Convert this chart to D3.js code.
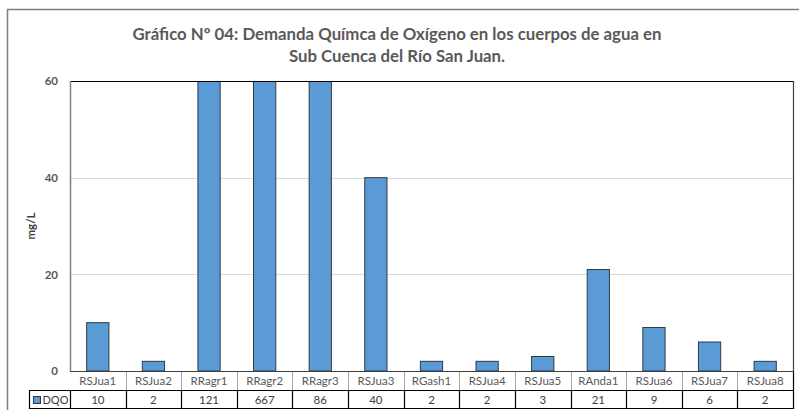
<!DOCTYPE html>
<html lang="es">
<head>
<meta charset="utf-8">
<title>DQO</title>
<script src="https://cdnjs.cloudflare.com/ajax/libs/d3/7.8.5/d3.min.js"></script>
<style>
  body { margin: 0; background: #fff; }
  text { font-family: Lato, "Open Sans", sans-serif; }
</style>
</head>
<body>
<script>
// datos
var categories = ["RSJua1","RSJua2","RRagr1","RRagr2","RRagr3","RSJua3","RGash1","RSJua4","RSJua5","RAnda1","RSJua6","RSJua7","RSJua8"];
var dqo = [10, 2, 121, 667, 86, 40, 2, 2, 3, 21, 9, 6, 2];
var yTicks = [0, 20, 40, 60];
var seriesName = "DQO";
var titleLines = ["Gráfico Nº 04: Demanda Químca de Oxígeno en los cuerpos de agua en", "Sub Cuenca del Río San Juan."];

var W = 799, H = 410;
var plot = {left: 70, top: 81, right: 793, bottom: 371};
var rowH = 19;

var svg = d3.select("body").append("svg")
  .attr("width", W).attr("height", H);

// borde del gráfico
svg.append("rect")
  .attr("x", 7.5).attr("y", 9.5)
  .attr("width", W + 10).attr("height", H + 10)
  .attr("fill", "#fff").attr("stroke", "#7f7f7f").attr("stroke-width", 1.5);

// título
svg.append("text")
  .attr("x", 397).attr("y", 40)
  .attr("text-anchor", "middle")
  .attr("font-size", 16.8).attr("font-weight", "bold").attr("fill", "#595959")
  .selectAll("tspan").data(titleLines).enter().append("tspan")
  .attr("x", 397).attr("dy", function(d, i) { return i === 0 ? 0 : 22; })
  .text(function(d) { return d; });

var x = d3.scaleBand().domain(categories).range([plot.left, plot.right]).padding(0);
var y = d3.scaleLinear().domain([0, 60]).range([plot.bottom, plot.top]);
var barW = x.bandwidth() / 2.5;

// líneas de cuadrícula
svg.append("g").selectAll("line")
  .data(yTicks.filter(function(d) { return d > 0 && d < 60; }))
  .enter().append("line")
  .attr("x1", plot.left).attr("x2", plot.right)
  .attr("y1", function(d) { return Math.round(y(d)) + 0.5; })
  .attr("y2", function(d) { return Math.round(y(d)) + 0.5; })
  .attr("stroke", "#d9d9d9").attr("stroke-width", 1);

// eje Y
var yAxis = d3.axisLeft(y).tickValues(yTicks).tickSize(0).tickPadding(12);
var gy = svg.append("g").attr("transform", "translate(" + plot.left + ",0)").call(yAxis);
gy.select(".domain").remove();
gy.selectAll("text")
  .attr("font-size", 11.5).attr("font-weight", "bold").attr("fill", "#595959")
  .attr("font-family", "Lato, sans-serif");

svg.append("text")
  .attr("transform", "translate(35," + ((plot.top + plot.bottom) / 2) + ") rotate(-90)")
  .attr("text-anchor", "middle")
  .attr("font-size", 11.5).attr("font-weight", "bold").attr("fill", "#404040")
  .text("mg/L");

// barras (recortadas en 60)
svg.append("clipPath").attr("id", "clip")
  .append("rect").attr("x", plot.left).attr("y", plot.top)
  .attr("width", plot.right - plot.left).attr("height", plot.bottom - plot.top);

svg.append("g").attr("clip-path", "url(#clip)")
  .selectAll("rect").data(dqo).enter().append("rect")
  .attr("x", function(d, i) { return x(categories[i]) + (x.bandwidth() - barW) / 2; })
  .attr("y", function(d) { return y(Math.min(d, 70)); })
  .attr("width", barW)
  .attr("height", function(d) { return y(0) - y(Math.min(d, 70)); })
  .attr("fill", "#5b9bd5").attr("stroke", "#2f3a45").attr("stroke-width", 1);

// bordes del área de trazado
svg.append("line")
  .attr("x1", plot.left).attr("x2", plot.right + 0.5)
  .attr("y1", plot.top + 0.5).attr("y2", plot.top + 0.5)
  .attr("stroke", "#000").attr("stroke-width", 1.2);
svg.append("line")
  .attr("x1", plot.right + 0.5).attr("x2", plot.right + 0.5)
  .attr("y1", plot.top).attr("y2", plot.bottom)
  .attr("stroke", "#404040").attr("stroke-width", 1.2);
svg.append("line")
  .attr("x1", plot.left + 0.5).attr("x2", plot.left + 0.5)
  .attr("y1", plot.top).attr("y2", plot.bottom)
  .attr("stroke", "#808080").attr("stroke-width", 1.5);

// tabla de datos
var tbl = svg.append("g");
var r1 = plot.bottom, r2 = plot.bottom + rowH, r3 = plot.bottom + 2 * rowH;
var legendLeft = 29;

tbl.selectAll("text.cat").data(categories).enter().append("text")
  .attr("class", "cat")
  .attr("x", function(d) { return x(d) + x.bandwidth() / 2; })
  .attr("y", r1 + 14)
  .attr("text-anchor", "middle")
  .attr("font-size", 11.5).attr("fill", "#595959")
  .text(function(d) { return d; });

tbl.selectAll("text.val").data(dqo).enter().append("text")
  .attr("class", "val")
  .attr("x", function(d, i) { return x(categories[i]) + x.bandwidth() / 2; })
  .attr("y", r2 + 14)
  .attr("text-anchor", "middle")
  .attr("font-size", 11.5).attr("fill", "#404040")
  .text(function(d) { return d; });

// separadores verticales
tbl.selectAll("line.v1").data(categories.slice(1)).enter().append("line")
  .attr("x1", function(d) { return Math.round(x(d)) + 0.5; })
  .attr("x2", function(d) { return Math.round(x(d)) + 0.5; })
  .attr("y1", r1).attr("y2", r2)
  .attr("stroke", "#a6a6a6");
tbl.selectAll("line.v2").data(categories).enter().append("line")
  .attr("x1", function(d) { return Math.round(x(d)) + 0.5; })
  .attr("x2", function(d) { return Math.round(x(d)) + 0.5; })
  .attr("y1", r2).attr("y2", r3)
  .attr("stroke", "#000").attr("stroke-width", 1.2);
tbl.append("line")
  .attr("x1", plot.right + 0.5).attr("x2", plot.right + 0.5)
  .attr("y1", r1).attr("y2", r3)
  .attr("stroke", "#000").attr("stroke-width", 1.2);
tbl.append("line")
  .attr("x1", legendLeft + 0.5).attr("x2", legendLeft + 0.5)
  .attr("y1", r2).attr("y2", r3)
  .attr("stroke", "#000").attr("stroke-width", 1.2);

// horizontales
tbl.append("line")
  .attr("x1", plot.left).attr("x2", plot.right + 1)
  .attr("y1", r1 + 0.5).attr("y2", r1 + 0.5)
  .attr("stroke", "#404040").attr("stroke-width", 1.2);
tbl.append("line")
  .attr("x1", legendLeft).attr("x2", plot.right + 1)
  .attr("y1", r2 + 0.5).attr("y2", r2 + 0.5)
  .attr("stroke", "#000").attr("stroke-width", 1.2);
tbl.append("line")
  .attr("x1", legendLeft).attr("x2", plot.right + 1)
  .attr("y1", r3 - 0.5).attr("y2", r3 - 0.5)
  .attr("stroke", "#000").attr("stroke-width", 1.2);

// leyenda
tbl.append("rect")
  .attr("x", 33.5).attr("y", r2 + 6.5).attr("width", 7).attr("height", 7)
  .attr("fill", "#5b9bd5").attr("stroke", "#2f3a45");
tbl.append("text")
  .attr("x", 42.5).attr("y", r2 + 14)
  .attr("font-size", 11).attr("fill", "#404040")
  .text(seriesName);
</script>
</body>
</html>
